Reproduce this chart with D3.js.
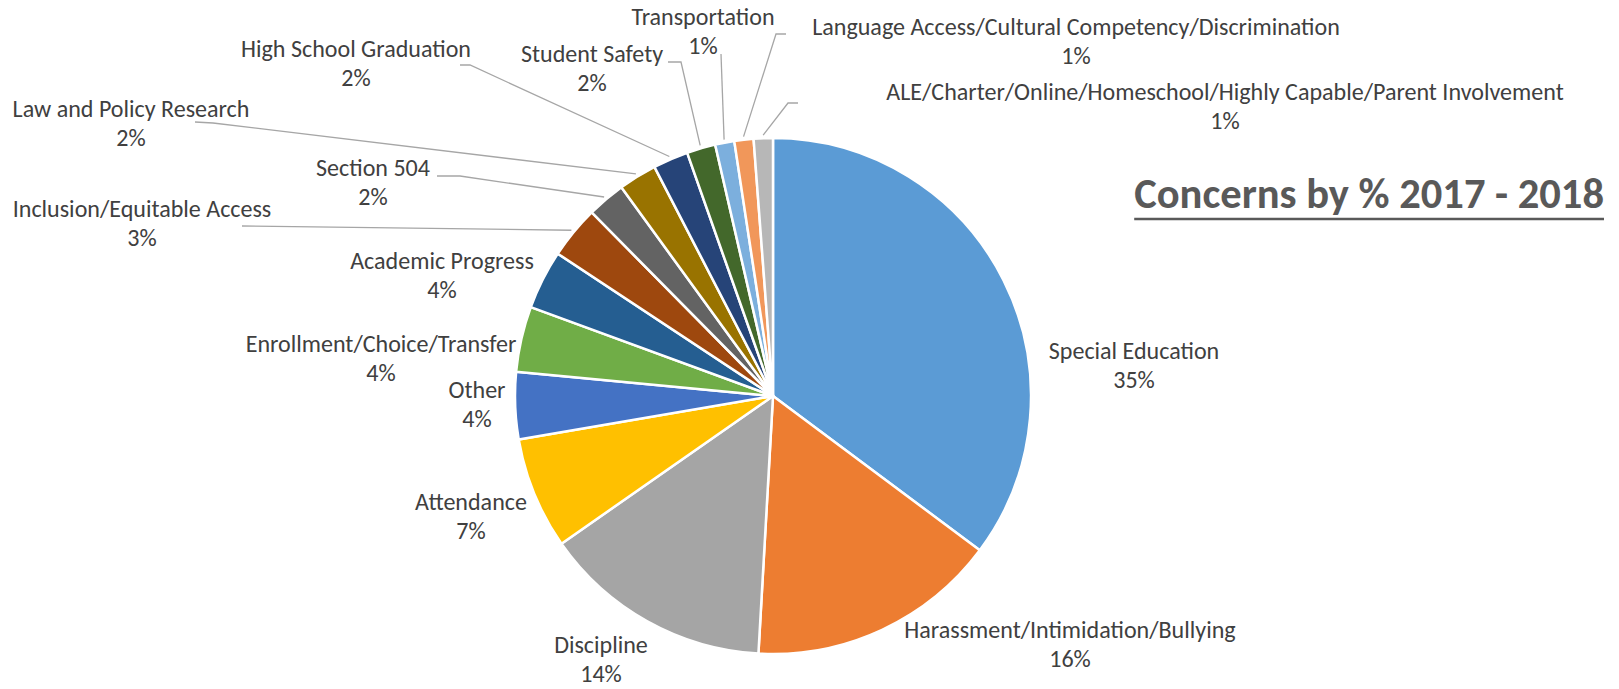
<!DOCTYPE html>
<html>
<head>
<meta charset="utf-8">
<script src="https://cdn.jsdelivr.net/npm/d3@7"></script>
<style>
  html, body { margin: 0; padding: 0; background: #ffffff; }
  svg { display: block; }
</style>
</head>
<body>
<div id="chart"></div>
<script>
// Data
const categories = [
  "Special Education",
  "Harassment/Intimidation/Bullying",
  "Discipline",
  "Attendance",
  "Other",
  "Enrollment/Choice/Transfer",
  "Academic Progress",
  "Inclusion/Equitable Access",
  "Section 504",
  "Law and Policy Research",
  "High School Graduation",
  "Student Safety",
  "Transportation",
  "Language Access/Cultural Competency/Discrimination",
  "ALE/Charter/Online/Homeschool/Highly Capable/Parent Involvement"
];
const values = [35.2, 15.7, 14.4, 7.0, 4.2, 4.1, 3.7, 3.3, 2.4, 2.4, 2.2, 1.8, 1.2, 1.2, 1.2];
const colors = [
  "#5B9BD5", "#ED7D31", "#A5A5A5", "#FFC000", "#4472C4",
  "#70AD47", "#255E91", "#9E480E", "#636363", "#997300",
  "#264478", "#43682B", "#7CAFDD", "#F1975A", "#B7B7B7"
];
const title = "Concerns by % 2017 - 2018";

// Label placement (x = centre of text, y = first baseline), leader start/bend points
const labelPos = [
  { x: 1134, y: 359 },
  { x: 1070, y: 638 },
  { x: 601,  y: 653 },
  { x: 471,  y: 510 },
  { x: 477,  y: 398 },
  { x: 381,  y: 352 },
  { x: 442,  y: 269 },
  { x: 142,  y: 217, leader: [[242, 226]] },
  { x: 373,  y: 176, leader: [[437, 176], [460, 176]] },
  { x: 131,  y: 117, leader: [[195, 122], [213, 123]] },
  { x: 356,  y: 57,  leader: [[460, 65], [470, 65]] },
  { x: 592,  y: 62,  leader: [[668, 62], [681, 62]] },
  { x: 703,  y: 25,  leader: [[721, 54]] },
  { x: 1076, y: 35,  leader: [[786, 34], [776, 34]] },
  { x: 1225, y: 100, leader: [[798, 103], [788, 103]] }
];

const width = 1619, height = 689;
const cx = 773, cy = 396, radius = 258;
const textColor = "#404040";
const fontFamily = "Carlito, Calibri, Lato, sans-serif";

const svg = d3.select("#chart").append("svg")
  .attr("width", width)
  .attr("height", height);

// Fit the label font to the width of the reference text
function fitSize(str, target, weight) {
  const t = svg.append("text")
    .style("font-family", fontFamily)
    .style("font-weight", weight)
    .style("font-size", "100px")
    .text(str);
  const len = t.node().getComputedTextLength();
  t.remove();
  return 100 * target / len;
}
const labelSize = fitSize(categories[14], 678, 400);
const titleSize = fitSize(title, 470, 700);
const lineGap = 29;

const pie = d3.pie().sort(null).value(d => d);
const arcs = pie(values);

const arc = d3.arc().innerRadius(0).outerRadius(radius);
const leaderArc = d3.arc().innerRadius(radius + 3).outerRadius(radius + 3);

const g = svg.append("g").attr("transform", `translate(${cx},${cy})`);

g.selectAll("path.slice")
  .data(arcs)
  .join("path")
  .attr("class", "slice")
  .attr("d", arc)
  .attr("fill", (d, i) => colors[i])
  .attr("stroke", "#ffffff")
  .attr("stroke-width", 2.5)
  .attr("stroke-linejoin", "round");

// Leader lines
const line = d3.line();
svg.selectAll("path.leader")
  .data(arcs.filter((d, i) => labelPos[i].leader))
  .join("path")
  .attr("class", "leader")
  .attr("d", d => {
    const pts = labelPos[d.index].leader.slice();
    const c = leaderArc.centroid(d);
    pts.push([cx + c[0], cy + c[1]]);
    return line(pts);
  })
  .attr("fill", "none")
  .attr("stroke", "#A6A6A6")
  .attr("stroke-width", 1.3);

// Data labels
const pct = d3.format(".0%");
const total = d3.sum(values);
const labels = svg.selectAll("text.label")
  .data(arcs)
  .join("text")
  .attr("class", "label")
  .attr("text-anchor", "middle")
  .attr("fill", textColor)
  .style("font-family", fontFamily)
  .style("font-size", labelSize + "px");

labels.append("tspan")
  .attr("x", d => labelPos[d.index].x)
  .attr("y", d => labelPos[d.index].y)
  .text(d => categories[d.index]);
labels.append("tspan")
  .attr("x", d => labelPos[d.index].x)
  .attr("y", d => labelPos[d.index].y + lineGap)
  .text(d => pct(d.value / total));

// Title with underline
const titleRight = 1604, titleBase = 208;
const titleText = svg.append("text")
  .attr("x", titleRight)
  .attr("y", titleBase)
  .attr("text-anchor", "end")
  .attr("fill", "#595959")
  .style("font-family", fontFamily)
  .style("font-weight", 700)
  .style("font-size", titleSize + "px")
  .text(title);
const tw = titleText.node().getComputedTextLength();
svg.append("line")
  .attr("x1", titleRight - tw)
  .attr("x2", titleRight)
  .attr("y1", titleBase + 11)
  .attr("y2", titleBase + 11)
  .attr("stroke", "#595959")
  .attr("stroke-width", 2.6);
</script>
</body>
</html>
